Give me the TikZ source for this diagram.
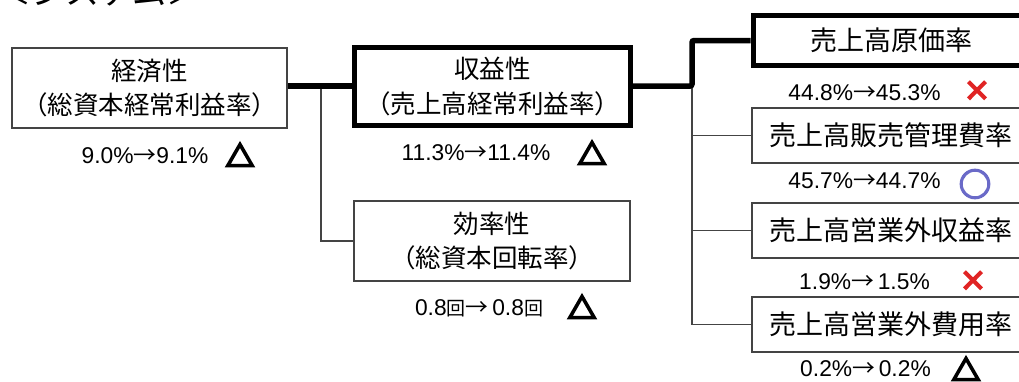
\documentclass[tikz,border=0pt]{standalone}
\usepackage{fontspec}
\setmainfont{Liberation Sans}
\newfontfamily\jp{Noto Sans CJK JP}
\newfontfamily\jpmark[FakeBold=9]{Noto Sans CJK JP}
\newfontfamily\jpcirc[FakeBold=6]{Noto Sans CJK JP}
\definecolor{markred}{HTML}{E02424}
\definecolor{markblue}{HTML}{6A6AC8}
\definecolor{thingray}{HTML}{444444}
\newcommand{\arr}{{\jp →}}
\newcommand{\kai}{{\jp\fontsize{19}{19}\selectfont 回}}
\begin{document}
\begin{tikzpicture}[x=1pt,y=-1pt,
  thinbox/.style={draw=thingray, line width=1.4pt, fill=white, inner sep=0pt, align=center},
  thickbox/.style={draw=black, line width=5pt, fill=white, inner sep=0pt, align=center},
  lefttext/.style={font=\jp\fontsize{25.5}{34.5}\selectfont},
  righttext/.style={font=\jp\fontsize{27}{27}\selectfont},
  lbl/.style={anchor=base, inner sep=0pt, font=\fontsize{22.8}{23}\selectfont},
  thinline/.style={draw=thingray, line width=1.2pt},
  thickline/.style={draw=black, line width=5.5pt, rounded corners=2pt},
  tri/.style={inner sep=0pt, font=\jpmark\fontsize{28}{28}\selectfont},
  crossmark/.style={inner sep=0pt, text=markred, font=\jpmark\fontsize{26}{26}\selectfont},
  circmark/.style={inner sep=0pt, text=markblue, font=\jpcirc\fontsize{32}{32}\selectfont}
]
\useasboundingbox (0,0) rectangle (1019,381);

% title (clipped at top)
\node[anchor=base west, inner sep=0pt, font=\jp\fontsize{34}{34}\selectfont] (title) at (-3,4) {＜システム＞};

% boxes
\node[thinbox, lefttext, minimum width=275pt, minimum height=80pt] (keizai) at (149.5,88) {経済性\\（総資本経常利益率）};
\node[thickbox, lefttext, minimum width=276pt, minimum height=78pt] (shueki) at (492.5,86.5) {収益性\\（売上高経常利益率）};
\node[thinbox, lefttext, minimum width=276pt, minimum height=80pt] (kouritsu) at (492,241) {効率性\\（総資本回転率）};

\node[thickbox, righttext, minimum width=277pt, minimum height=50pt] (genka) at (891.5,40.5) {売上高原価率};
\node[thinbox, righttext, minimum width=278pt, minimum height=55pt] (hanbai) at (891,135.5) {売上高販売管理費率};
\node[thinbox, righttext, minimum width=278pt, minimum height=55pt] (eigais) at (891,230.5) {売上高営業外収益率};
\node[thinbox, righttext, minimum width=278pt, minimum height=55pt] (eigaih) at (891,324.5) {売上高営業外費用率};

% junctions
\coordinate (j1) at (321,86);
\coordinate (j2) at (692,86);

% connectors
\draw[thinline] (j1) |- (kouritsu.west);
\draw[thinline] (j2) |- (eigaih.west);
\draw[thinline] (j2) |- (hanbai.west);
\draw[thinline] (j2) |- (eigais.west);
\draw[thickline] (keizai.east |- j1) -- (shueki.west |- j1);
\draw[thickline] (shueki.east |- j2) -- (j2) |- (genka.west);

% values
\node[lbl] (v1) at (145,163) {9.0\%\arr9.1\%};
\node[lbl] (v2) at (476,160) {11.3\%\arr11.4\%};
\node[lbl] (v3) at (479,315) {0.8\kai\arr\,0.8\kai};
\node[lbl] (v4) at (864.5,100) {44.8\%\arr45.3\%};
\node[lbl] (v5) at (864.5,188) {45.7\%\arr44.7\%};
\node[lbl] (v6) at (864.5,289) {1.9\%\arr\,1.5\%};
\node[lbl] (v7) at (865.5,376) {0.2\%\arr\,0.2\%};

% marks
\node[tri] (m1) at (240,155) {△};
\node[tri] (m2) at (592,153) {△};
\node[tri] (m3) at (582,307) {△};
\node[crossmark] (m4) at (977,91) {×};
\node[circmark] (m5) at (975,184) {○};
\node[crossmark] (m6) at (973,281) {×};
\node[tri] (m7) at (966,369) {△};
\end{tikzpicture}
\end{document}
